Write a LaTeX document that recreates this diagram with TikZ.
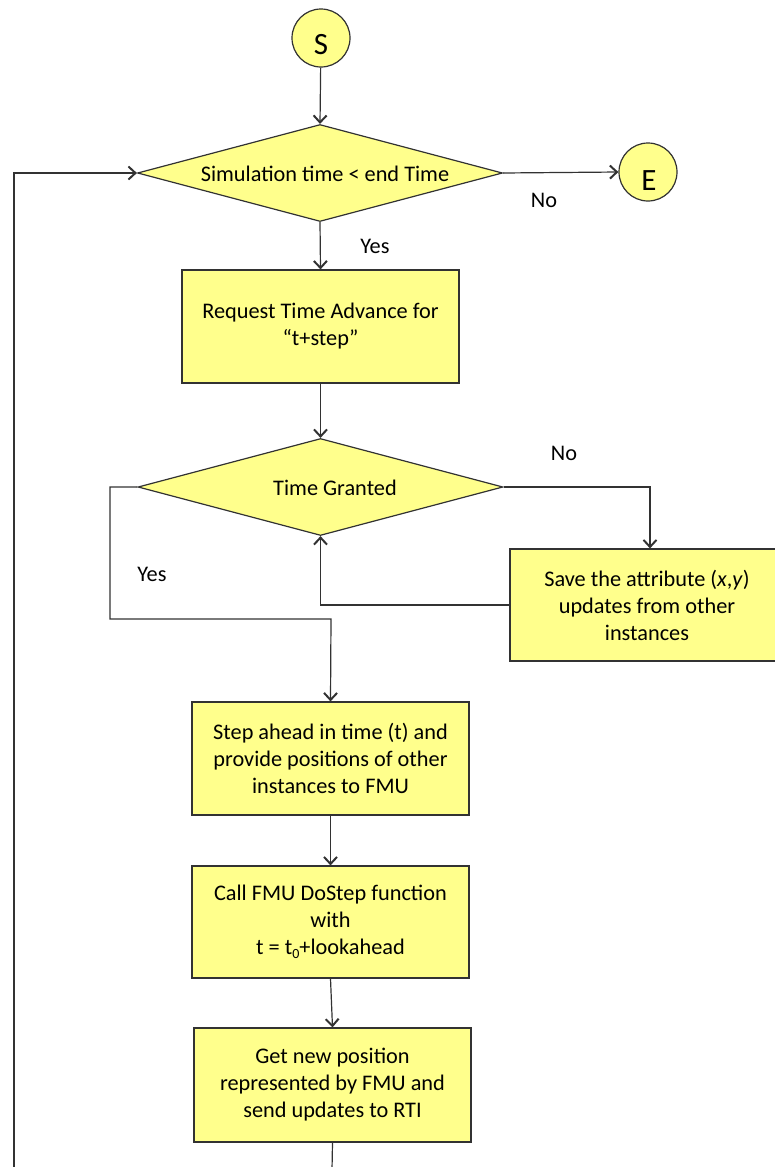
\documentclass[tikz,border=0pt]{standalone}
\usepackage{fontspec}
\setmainfont{Carlito}
\usetikzlibrary{arrows.meta,shapes.geometric,calc}
\definecolor{boxfill}{RGB}{255,255,140}
\definecolor{edge}{RGB}{50,50,50}
\newcommand{\lowidx}[1]{\raisebox{-3.5pt}{\fontsize{14}{14}\selectfont #1}}
\tikzset{
  flowbox/.style={draw=edge, fill=boxfill, line width=1.2pt, rectangle,
    align=center, inner sep=0pt, font=\fontsize{22.3}{27}\selectfont},
  decision/.style={draw=edge, fill=boxfill, line width=1.2pt, diamond,
    inner sep=0pt},
  terminal/.style={draw=edge, fill=boxfill, line width=1.2pt, circle,
    inner sep=0pt, minimum size=58pt},
  termtext/.style={font=\fontsize{31}{34}\selectfont, inner sep=0pt},
  note/.style={font=\fontsize{22.3}{27}\selectfont, inner sep=0pt},
  flow/.style={draw=edge, line width=1.2pt,
    -{Straight Barb[length=7pt,width=13pt,line width=2pt]}},
  plain/.style={draw=edge, line width=1.2pt},
}
\begin{document}
\begin{tikzpicture}[x=1pt, y=-1pt]
  \useasboundingbox (0,0) rectangle (775,1167);

  % terminals
  \node[terminal] (s) at (321,38) {};
  \node[termtext] (s-txt) at (321,45) {S};
  \node[terminal] (e) at (648,172) {};
  \node[termtext] (e-txt) at (649,181) {E};

  % decisions
  \node[decision, minimum width=365pt, minimum height=97pt] (d1) at (320,173) {};
  \node[note] (d1-txt) at (325,174) {Simulation time < end Time};
  \node[decision, minimum width=365pt, minimum height=97pt] (d2) at (320.5,487) {};
  \node[note] (d2-txt) at (335,488) {Time Granted};

  % process steps
  \node[flowbox, minimum width=277pt, minimum height=113pt] (b1) at (320.5,326.5)
    {Request Time Advance for\\“t+step”};
  \node[flowbox, minimum width=274pt, minimum height=112pt] (b2) at (647,605)
    {Save the attribute (\textit{x},\textit{y})\\updates from other\\instances};
  \node[flowbox, minimum width=277pt, minimum height=113pt] (b3) at (330.5,758.5)
    {Step ahead in time (t) and\\provide positions of other\\instances to FMU};
  \node[flowbox, minimum width=277pt, minimum height=112pt] (b4) at (330.5,922)
    {Call FMU DoStep function\\with\\t = t\lowidx{0}+lookahead};
  \node[flowbox, minimum width=277pt, minimum height=114pt] (b5) at (332.5,1085)
    {Get new position\\represented by FMU and\\send updates to RTI};

  % branch labels
  \node[note] (no1) at (544,200) {No};
  \node[note] (yes1) at (375,246) {Yes};
  \node[note] (no2) at (564,453) {No};
  \node[note] (yes2) at (152,574) {Yes};

  % routing points
  \coordinate (c-right) at (650,487);
  \coordinate (c-left-top) at (110,487);
  \coordinate (c-left-bot) at (110,619);
  \coordinate (c-mid) at (331,619);
  \coordinate (c-out) at (332,1170);
  \coordinate (c-loop-bot) at (14,1170);
  \coordinate (c-loop-top) at (14,173);

  % connectors
  \draw[flow] (s) -- (d1.north);
  \draw[flow] (d1.east) -- (e.west);
  \draw[flow] (d1.south) -- (b1.north);
  \draw[flow] (b1.south) -- (d2.north);
  \draw[flow] (d2.east) -- (c-right) -- (c-right |- b2.north);
  \draw[flow] (b2.west) -| (d2.south);
  \draw[flow] (d2.west) -- (c-left-top) -- (c-left-bot) -- (c-mid) -- (b3.north);
  \draw[flow] (b3.south) -- (b4.north);
  \draw[flow] (b4.south) -- (b5.north);
  \draw[plain] (b5.south) -- (c-out);
  \draw[flow] (c-loop-bot) -- (c-loop-top) -- (d1.west);
\end{tikzpicture}
\end{document}
